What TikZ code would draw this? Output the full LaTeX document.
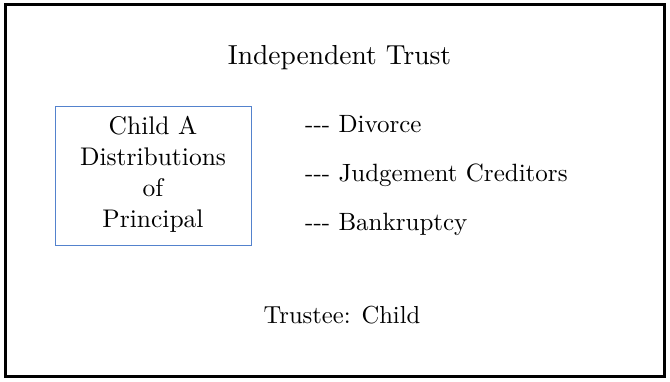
\documentclass[tikz,border=0pt]{standalone}
\usepackage{fontspec}
\setmainfont{lmroman10-regular.otf}[Ligatures=TeXOff]
\definecolor{boxblue}{RGB}{84,130,205}
\tikzset{
  frame/.style={draw=black, line width=3pt},
  distbox/.style={draw=boxblue, line width=0.9pt, minimum width=196pt, minimum height=139pt, inner sep=0pt},
  txt/.style={anchor=base, inner sep=0pt, font=\fontsize{25.5}{31}\selectfont},
  titletxt/.style={anchor=base, inner sep=0pt, font=\fontsize{27.5}{33}\selectfont},
  listtxt/.style={anchor=base west, inner sep=0pt, font=\fontsize{25}{30}\selectfont},
  trusttxt/.style={anchor=base, inner sep=0pt, font=\fontsize{24.6}{30}\selectfont}
}
\begin{document}
\begin{tikzpicture}[x=1pt, y=-1pt]
\useasboundingbox (0,0) rectangle (670,381);
\node[frame, minimum width=659pt, minimum height=372.2pt, inner sep=0pt] (outer) at (335,190.6) {};
\node[titletxt] (title) at (339.5,64.3) {Independent Trust};
\node[distbox] (box) at (153,175.5) {};
\node[txt] (l1) at (153,134.3) {Child A};
\node[txt] (l2) at (153,165.3) {Distributions};
\node[txt] (l3) at (153,196.3) {of};
\node[txt] (l4) at (153,227.3) {Principal};
\node[listtxt] (d) at (305,132.3) {---\ Divorce};
\node[listtxt] (j) at (305,181.7) {---\ Judgement Creditors};
\node[listtxt] (b) at (305,230) {---\ Bankruptcy};
\node[trusttxt] (t) at (342,323.3) {Trustee: Child};
\end{tikzpicture}
\end{document}
